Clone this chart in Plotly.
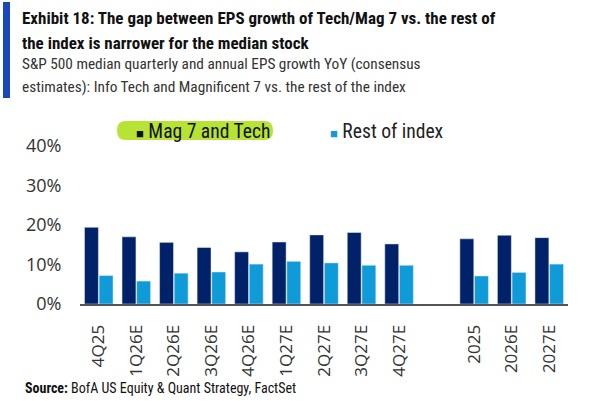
import plotly.graph_objects as go

# categories (blank slot separates quarters from years)
categories = ['4Q25', '1Q26E', '2Q26E', '3Q26E', '4Q26E', '1Q27E', '2Q27E', '3Q27E', '4Q27E',
              ' ', '2025', '2026E', '2027E']
mag7_tech = [19.4, 17.0, 15.6, 14.3, 13.2, 15.7, 17.5, 18.1, 15.2, None, 16.5, 17.4, 16.8]
rest_of_index = [7.2, 5.8, 7.8, 8.1, 10.1, 10.8, 10.4, 9.8, 9.8, None, 7.1, 8.0, 10.1]
y_ticks = [0, 10, 20, 30, 40]
y_tick_labels = ['0%', '10%', '20%', '30%', '40%']

NAVY = '#012169'
LIGHT = '#0f9ad8'
NARROW = 'Liberation Sans Narrow, Roboto Condensed, Arial Narrow, sans-serif'

# plot area in pixels
L, R, T, B = 80, 568, 146, 304


def px_x(p):
    return (p - L) / (R - L)


def px_y(p):
    return (B - p) / (B - T)


def text_line(txt, x, y, size, color, bold=False):
    if bold:
        txt = '<b>' + txt + '</b>'
    fig.add_annotation(xref='paper', yref='paper', x=px_x(x), y=px_y(y),
                       xanchor='left', yanchor='middle', showarrow=False,
                       text=txt, font=dict(family=NARROW, size=size, color=color))


fig = go.Figure()

fig.add_trace(go.Bar(x=categories, y=mag7_tech, name='Mag 7 and Tech', marker_color=NAVY,
                     hoverinfo='skip'))
fig.add_trace(go.Bar(x=categories, y=rest_of_index, name='Rest of index', marker_color=LIGHT,
                     hoverinfo='skip'))

fig.update_layout(
    width=591,
    height=401,
    margin=dict(l=L, r=591 - R, t=T, b=401 - B),
    paper_bgcolor='white',
    plot_bgcolor='white',
    barmode='group',
    bargap=0.22,
    bargroupgap=0.05,
    showlegend=False,
    font=dict(family='Open Sans, sans-serif', color='#333333'),
    xaxis=dict(
        tickangle=-90,
        tickfont=dict(size=17, color='#333333'),
        showline=True,
        linecolor='#555555',
        linewidth=2,
        ticks='',
        ticklabelstandoff=12,
    ),
    yaxis=dict(
        range=[0, 40],
        tickvals=y_ticks,
        ticktext=y_tick_labels,
        tickfont=dict(size=18, color='#333333'),
        showgrid=False,
        zeroline=False,
        ticks='outside',
        ticklen=14,
        tickcolor='rgba(0,0,0,0)',
    ),
)

# blue bar on the left of the heading
fig.add_shape(type='rect', xref='paper', yref='paper',
              x0=px_x(3), x1=px_x(10), y0=px_y(98), y1=px_y(2),
              fillcolor='#1848bb', line_width=0, layer='above')

# highlighter behind first legend entry
x0, x1, y0, y1 = px_x(117), px_x(273), px_y(140), px_y(121)
rr = 9 / (R - L)
ry = 9 / (B - T)
path = (f'M {x0 + rr},{y0} L {x1 - rr},{y0} Q {x1},{y0} {x1},{y0 + ry} '
        f'L {x1},{y1 - ry} Q {x1},{y1} {x1 - rr},{y1} L {x0 + rr},{y1} '
        f'Q {x0},{y1} {x0},{y1 - ry} L {x0},{y0 + ry} Q {x0},{y0} {x0 + rr},{y0} Z')
fig.add_shape(type='path', xref='paper', yref='paper', path=path,
              fillcolor='#b7e334', line_width=0, layer='above')

# legend built from text
text_line('<span style="color:#111111;font-size:13px">■</span> Mag 7 and Tech',
          134, 131, 19.6, '#111111')
text_line(f'<span style="color:{LIGHT};font-size:13px">■</span> Rest of index',
          328, 131, 19.6, '#222222')

# heading, one line at a time
text_line('Exhibit 18: The gap between EPS growth of Tech/Mag 7 vs. the rest of',
          20, 18, 17, '#111111', bold=True)
text_line('the index is narrower for the median stock', 20, 43, 17, '#111111', bold=True)
text_line('S&P 500 median quarterly and annual EPS growth YoY (consensus',
          20, 64, 15.3, '#333333')
text_line('estimates): Info Tech and Magnificent 7 vs. the rest of the index',
          20, 87, 15.3, '#333333')

# source line
text_line('<b>Source:</b> BofA US Equity & Quant Strategy, FactSet', 23, 388, 14, '#111111')

fig.write_html('out.html', config={'displayModeBar': False},
               post_script="document.body.style.margin = '0';")
